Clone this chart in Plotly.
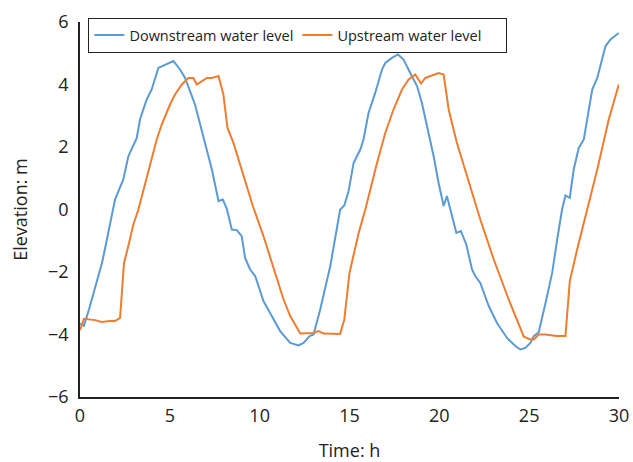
import plotly.graph_objects as go

# Downstream water level (time in h, elevation in m)
down_t = [0.0, 0.22, 0.5, 0.93, 1.23, 1.5, 1.82, 1.95, 2.41, 2.69, 3.16, 3.34, 3.71, 3.99,
          4.36, 4.64, 4.92, 5.2, 5.57, 5.85, 6.4, 6.87, 7.34, 7.71, 7.95, 8.17, 8.45, 8.73,
          9.0, 9.19, 9.47, 9.75, 10.21, 10.58, 11.14, 11.7, 12.16, 12.44, 12.78, 13.0, 13.37,
          13.93, 14.2, 14.48, 14.71, 14.95, 15.23, 15.6, 15.78, 16.06, 16.43, 16.81, 16.99,
          17.36, 17.7, 18.01, 18.38, 18.76, 19.03, 19.31, 19.68, 19.96, 20.24, 20.42, 20.71,
          20.95, 21.2, 21.5, 21.82, 22.0, 22.28, 22.75, 23.21, 23.77, 24.23, 24.51, 24.79,
          25.07, 25.26, 25.53, 25.91, 26.28, 26.56, 26.83, 27.02, 27.26, 27.48, 27.76, 28.04,
          28.51, 28.79, 29.25, 29.53, 29.99]
down_y = [-3.65, -3.72, -3.2, -2.35, -1.7, -0.95, 0.0, 0.32, 0.96, 1.7, 2.29, 2.88, 3.52, 3.84,
          4.53, 4.61, 4.69, 4.75, 4.48, 4.21, 3.36, 2.35, 1.28, 0.27, 0.32, 0.02, -0.64, -0.66,
          -0.85, -1.55, -1.92, -2.13, -2.93, -3.31, -3.89, -4.27, -4.35, -4.27, -4.05, -4.0, -3.2,
          -1.81, -0.85, 0.0, 0.13, 0.59, 1.49, 1.92, 2.24, 3.09, 3.73, 4.48, 4.69,
          4.85, 4.96, 4.8, 4.37, 3.95, 3.41, 2.67, 1.71, 0.85, 0.11, 0.43, -0.21,
          -0.75, -0.69, -1.12, -1.92, -2.13, -2.35, -3.09, -3.63, -4.11, -4.37, -4.48, -4.43,
          -4.27, -4.05, -3.93, -2.99, -2.03, -0.96, 0.0, 0.45, 0.37, 1.28, 1.97, 2.24,
          3.84, 4.21, 5.23, 5.44, 5.65]

# Upstream water level
up_t = [0.0, 0.22, 0.84, 1.2, 1.67, 1.95, 2.23, 2.45, 2.69, 2.97, 3.25, 3.81, 4.27, 4.55,
        5.01, 5.29, 5.67, 6.03, 6.31, 6.5, 6.78, 7.06, 7.34, 7.71, 7.98, 8.21, 8.54, 9.19,
        9.62, 10.21, 10.96, 11.33, 11.7, 12.26, 13.0, 13.28, 13.56, 14.02, 14.48, 14.71,
        15.0, 15.51, 15.88, 16.53, 16.99, 17.45, 17.92, 18.29, 18.66, 18.98, 19.22, 19.59,
        19.96, 20.24, 20.52, 20.98, 21.73, 22.1, 22.28, 23.03, 23.86, 24.7, 25.07, 25.26,
        25.53, 25.91, 26.19, 26.52, 27.02, 27.26, 27.67, 28.22, 28.79, 29.43, 29.99]
up_y = [-3.86, -3.5, -3.54, -3.6, -3.57, -3.57, -3.47, -1.71, -1.17, -0.48, 0.0, 1.28, 2.24, 2.72,
        3.36, 3.68, 4.0, 4.21, 4.21, 4.0, 4.1, 4.21, 4.21, 4.27, 3.68, 2.61, 2.13, 0.96,
        0.11, -0.85, -2.24, -2.88, -3.41, -3.97, -3.95, -3.89, -3.97, -3.98, -3.98, -3.52,
        -2.03, -0.75, 0.0, 1.49, 2.45, 3.2, 3.84, 4.16, 4.32, 4.03, 4.21, 4.29,
        4.37, 4.32, 3.2, 2.13, 0.75, 0.0, -0.32, -1.6, -2.88, -4.07, -4.16, -4.16,
        -4.0, -4.0, -4.03, -4.05, -4.05, -2.29, -1.28, 0.0, 1.28, 2.88, 4.0]

x_ticks = [0, 5, 10, 15, 20, 25, 30]
y_ticks = [-6, -4, -2, 0, 2, 4, 6]

FONT = "Open Sans"
fig = go.Figure()
fig.add_trace(go.Scatter(x=down_t, y=down_y, mode="lines", name="Downstream water level",
                         line=dict(color="#5B9BD5", width=2)))
fig.add_trace(go.Scatter(x=up_t, y=up_y, mode="lines", name="Upstream water level",
                         line=dict(color="#ED7D31", width=2)))

fig.update_layout(
    width=633, height=462,
    margin=dict(l=80, r=14, t=22, b=65, autoexpand=False),
    paper_bgcolor="white", plot_bgcolor="white",
    font=dict(family=FONT, size=18, color="#222"),
    legend=dict(orientation="h", x=0.015, y=1.011, xanchor="left", yanchor="top",
                bordercolor="#222", borderwidth=1.3, bgcolor="white",
                font=dict(size=14.5, color="#222"),
                entrywidth=163, entrywidthmode="pixels", tracegroupgap=0),
    xaxis=dict(range=[0, 30], tickvals=x_ticks, showgrid=False, zeroline=False,
               showline=True, linecolor="#222", linewidth=1.5, ticks="",
               ticklabelstandoff=2, automargin=False,
               title=dict(text="Time: h", standoff=21, font=dict(size=18))),
    yaxis=dict(range=[-6, 6], tickvals=y_ticks, showgrid=False, zeroline=False,
               showline=True, linecolor="#222", linewidth=1.5, ticks="",
               ticklabelstandoff=6, automargin=False,
               title=dict(text="Elevation: m", standoff=16, font=dict(size=18))),
)

fig.write_html("out.html", config={"displayModeBar": False},
               post_script="document.body.style.margin='0';document.body.style.overflow='hidden';")
